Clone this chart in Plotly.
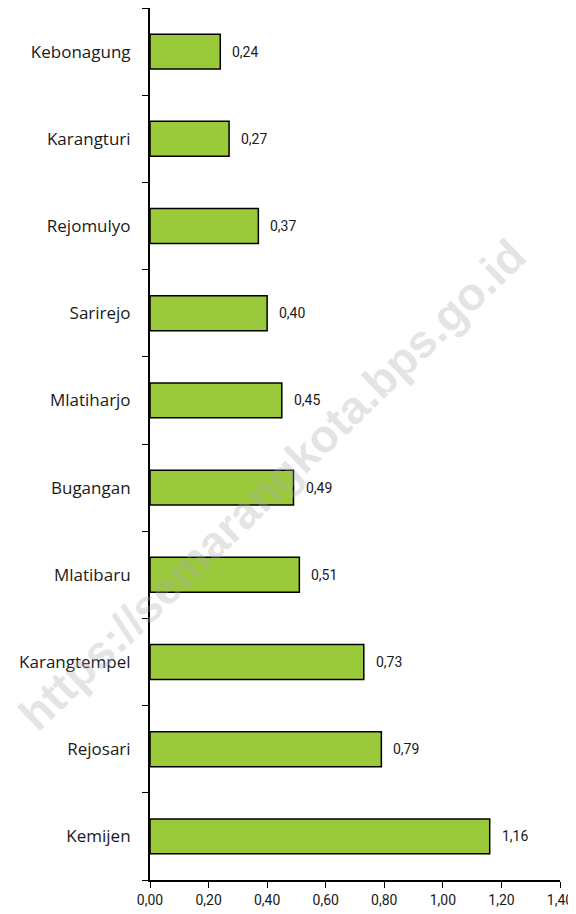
import plotly.graph_objects as go

# data (top to bottom as shown)
kelurahan = ["Kebonagung", "Karangturi", "Rejomulyo", "Sarirejo", "Mlatiharjo",
             "Bugangan", "Mlatibaru", "Karangtempel", "Rejosari", "Kemijen"]
nilai = [0.24, 0.27, 0.37, 0.40, 0.45, 0.49, 0.51, 0.73, 0.79, 1.16]
x_ticks = [0.0, 0.2, 0.4, 0.6, 0.8, 1.0, 1.2, 1.4]
x_ticklabels = ["0,00", "0,20", "0,40", "0,60", "0,80", "1,00", "1,20", "1,40"]

# narrow-ish face for the numbers
num_font = dict(family="Roboto, sans-serif", size=14, color="#1a1a1a")

fig = go.Figure()
fig.add_trace(go.Bar(
    y=kelurahan,
    x=nilai,
    orientation="h",
    width=0.4,
    marker=dict(color="#9BC93C", line=dict(color="#000000", width=1.5)),
    hoverinfo="skip",
))

# value labels to the right of each bar
for k, v in zip(kelurahan, nilai):
    fig.add_annotation(
        x=v, y=k, text=f"{v:.2f}".replace(".", ","),
        xanchor="left", xshift=10, showarrow=False,
        font=num_font,
    )

# watermark
fig.add_annotation(
    xref="paper", yref="paper", x=0.297, y=0.453,
    xanchor="center", yanchor="middle",
    text="<b>https://semarangkota.bps.go.id</b>",
    textangle=-44, showarrow=False,
    font=dict(family="Liberation Sans, Arial, sans-serif", size=46,
              color="rgba(170,170,170,0.33)"),
)

# page body adds 8px margin, so the figure is a bit smaller than the window
fig.update_layout(
    width=568, height=906,
    margin=dict(l=142, r=16, t=0, b=34),
    plot_bgcolor="white", paper_bgcolor="white",
    showlegend=False,
)
fig.update_xaxes(
    range=[0, 1.4], tickvals=x_ticks, ticktext=x_ticklabels,
    automargin=False,
    showgrid=False, zeroline=False,
    showline=True, linecolor="#000000", linewidth=2,
    ticks="outside", ticklen=6, tickcolor="#000000", tickwidth=1,
    tickfont=num_font,
)
fig.update_yaxes(
    type="category", categoryorder="array", categoryarray=kelurahan[::-1],
    tickson="boundaries", automargin=False,
    showgrid=False, zeroline=False,
    showline=True, linecolor="#000000", linewidth=2,
    ticks="outside", ticklen=6, tickcolor="#000000", tickwidth=1,
    tickfont=dict(family="Open Sans, Noto Sans, sans-serif", size=17, color="#1a1a1a"),
    ticklabelstandoff=14,
)

fig.write_html("out.html")
